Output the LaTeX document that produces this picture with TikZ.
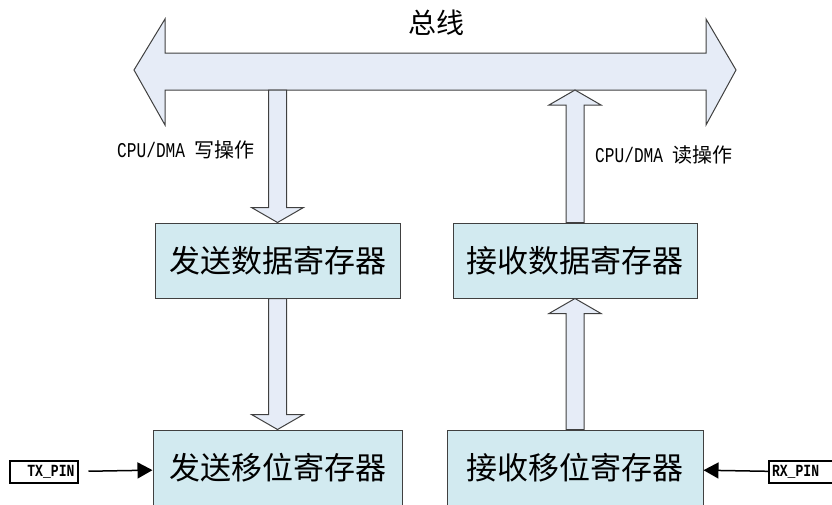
\documentclass[tikz,border=0pt]{standalone}
\usepackage{fontspec}
\usetikzlibrary{arrows.meta,calc}
\setmonofont{Liberation Mono}
\newfontfamily\cjk{Noto Sans CJK SC}

\definecolor{busfill}{RGB}{230,236,247}
\definecolor{regfill}{RGB}{210,234,240}
\definecolor{edgegray}{RGB}{64,64,64}

% narrow latin text
\newcommand{\narrowtt}[1]{\scalebox{0.77}[1]{\ttfamily #1}}

\tikzset{
  regbox/.style={draw=edgegray, fill=regfill, line width=1pt, minimum height=75pt, inner sep=0pt,
    font=\cjk\fontsize{31}{36}\selectfont},
  blockarrow/.style={draw=edgegray, fill=busfill, line width=1pt, line join=miter},
  pinbox/.style={draw=black, line width=2pt, minimum height=22pt, inner xsep=3pt, inner ysep=0pt,
    font=\bfseries\fontsize{17}{18}\selectfont},
  pinarrow/.style={line width=1.5pt, -{Triangle[length=15pt,width=16pt]}},
  oplabel/.style={anchor=west, inner sep=0pt, font=\fontsize{21}{22}\selectfont}
}

% vertical block arrow: shaft from #1, head tip at #2
\newcommand{\blockarrow}[2]{%
  \path (#1) coordinate (ba-s) (#2) coordinate (ba-t) ($(ba-t)!15pt!(ba-s)$) coordinate (ba-h);
  \draw[blockarrow] ([xshift=-9pt]ba-s) -- ([xshift=9pt]ba-s) -- ([xshift=9pt]ba-h)
    -- ([xshift=26pt]ba-h) -- (ba-t) -- ([xshift=-26pt]ba-h) -- ([xshift=-9pt]ba-h) -- cycle;}

\begin{document}
\begin{tikzpicture}[x=1pt, y=-1pt]
  \clip (0,0) rectangle (832,504);
  \useasboundingbox (0,0) rectangle (832,504);

  % Bus
  \draw[blockarrow] (134,70) -- (165,19) -- (165,53) -- (706,53) -- (706,19) -- (736,70)
    -- (706,125) -- (706,90) -- (165,90) -- (165,125) -- cycle;
  \coordinate (busbottom) at (0,90);
  \node[font=\cjk\fontsize{28}{32}\selectfont] (buslabel) at (436,23) {总线};

  % Registers
  \node[regbox, minimum width=245pt] (txdata) at (277.5,260.5) {发送数据寄存器};
  \node[regbox, minimum width=244pt] (rxdata) at (575,260.5) {接收数据寄存器};
  \node[regbox, minimum width=249pt, minimum height=76pt] (txshift) at (277.5,468) {发送移位寄存器};
  \node[regbox, minimum width=256pt, minimum height=76pt] (rxshift) at (575,468) {接收移位寄存器};

  % Data paths
  \blockarrow{txdata.north |- busbottom}{txdata.north}
  \blockarrow{txdata.south}{txshift.north}
  \blockarrow{rxdata.north}{rxdata.north |- busbottom}
  \blockarrow{rxshift.north}{rxdata.south}

  % Operation labels
  \node[oplabel] (wrlabel) at (117,150) {\narrowtt{CPU/DMA\ }{\cjk\fontsize{20}{22}\selectfont 写操作}};
  \node[oplabel] (rdlabel) at (595,155) {\narrowtt{CPU/DMA\ }{\cjk\fontsize{20}{22}\selectfont 读操作}};

  % Pins
  \node[pinbox, text width=62pt, align=right] (txpin) at (43.5,472) {\narrowtt{TX\_PIN}};
  \node[pinbox, text width=74pt, align=left, anchor=west] (rxpin) at (768,472) {\narrowtt{RX\_PIN}};
  \draw[pinarrow, shorten <=10pt] (txpin) -- (txshift);
  \draw[pinarrow] (rxpin) -- (rxshift);
\end{tikzpicture}
\end{document}
